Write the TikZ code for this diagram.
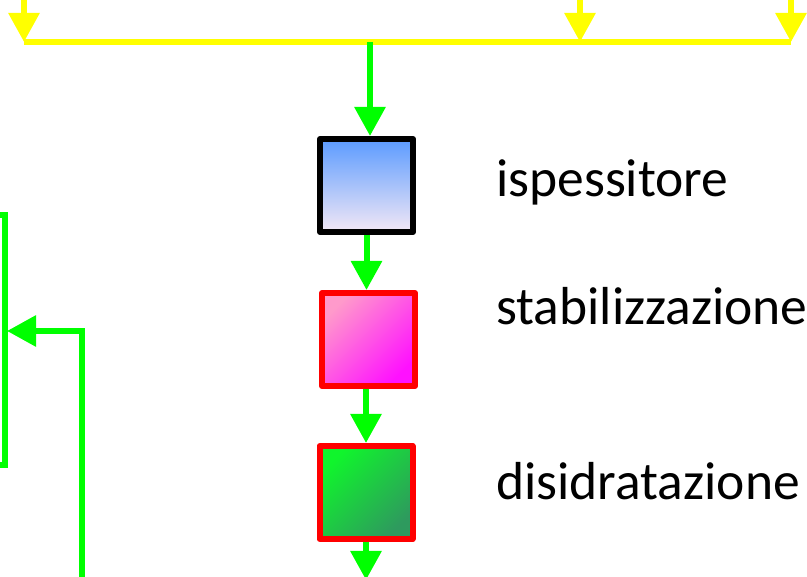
\documentclass[tikz,border=0pt]{standalone}
\usepackage{fontspec}
\setmainfont{Carlito}
\usetikzlibrary{arrows.meta}
\definecolor{flowgreen}{HTML}{00FF00}
\definecolor{feedyellow}{HTML}{FFFF00}
\definecolor{boxred}{HTML}{FF0000}
\definecolor{blueTop}{HTML}{5B9BFF}
\definecolor{blueBot}{HTML}{F3E8F5}
\definecolor{pinkA}{HTML}{FF9ACB}
\definecolor{pinkB}{HTML}{FF10FF}
\definecolor{greenA}{HTML}{10F52C}
\definecolor{greenB}{HTML}{2E9A5E}
\begin{document}
\begin{tikzpicture}[x=1pt,y=-1pt,
  tip/.style={-{Triangle[width=30pt,length=29pt]}},
  yline/.style={draw=feedyellow,line width=6pt},
  gline/.style={draw=flowgreen,line width=6pt},
  unit/.style={draw,line width=6pt,line join=round,minimum size=93pt,inner sep=0pt},
  label/.style={anchor=base west,inner sep=0pt,font=\fontsize{53.5}{60}\selectfont}]
\useasboundingbox (0,0) rectangle (807,577);

% process units
\node[unit,draw=black,top color=blueTop,bottom color=blueBot] (thick) at (366.5,185.5) {};
\node[unit,draw=boxred,top color=pinkA,bottom color=pinkB,shading angle=45] (stab) at (368.5,339.5) {};
\node[unit,draw=boxred,top color=greenA,bottom color=greenB,shading angle=45] (dehyd) at (366,492.5) {};

\node[label] (lthick) at (496,197) {ispessitore};
\node[label] (lstab) at (496,325) {stabilizzazione};
\node[label] (ldehyd) at (496,500) {disidratazione};

% yellow header line with feeds
\coordinate (yl) at (24,42);
\coordinate (yr) at (791,42);
\coordinate (ym) at (370,42);
\coordinate (f1) at (24,-5);
\coordinate (f2) at (580,-5);
\coordinate (f3) at (791,-5);
\coordinate (t2) at (580,42);
\draw[yline] (yl) -- (yr);
\draw[yline,tip] (f1) -- (yl);
\draw[yline,tip] (f2) -- (t2);
\draw[yline,tip] (f3) -- (yr);

% green flow through the units
\draw[gline,tip] (ym) -- (ym |- thick.north);
\draw[gline,tip] (thick.south) -- (thick.south |- stab.north);
\draw[gline,tip] (stab.south -| dehyd.north) -- (dehyd.north);
\coordinate (out) at (366,580);
\draw[gline,tip] (dehyd.south) -- (out);

% left bracket and return line
\coordinate (bt) at (-5,215);
\coordinate (bb) at (-5,465);
\draw[gline] (bt) -| (5,465) -- (bb);
\coordinate (rb) at (82,580);
\coordinate (rt) at (82,331);
\coordinate (rtip) at (7,331);
\draw[gline,tip] (rb) -- (rt) -- (rtip);
\end{tikzpicture}
\end{document}
